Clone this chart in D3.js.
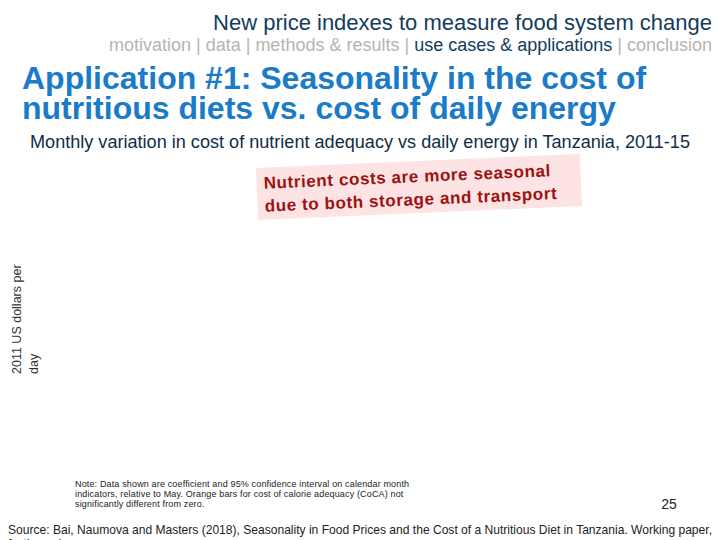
<!DOCTYPE html>
<html>
<head>
<meta charset="utf-8">
<script src="https://cdn.jsdelivr.net/npm/d3@7"></script>
<style>
  body { margin: 0; background: #fff; }
  svg { display: block; font-family: "Liberation Sans", Arial, sans-serif; }
</style>
</head>
<body>
<div id="slide"></div>
<script>
// Slide texts
var headerText = "New price indexes to measure food system change";
var navItems = ["motivation", "data", "methods & results", "use cases & applications", "conclusion"];
var activeNav = "use cases & applications";
var titleLines = ["Application #1: Seasonality in the cost of", "nutritious diets vs. cost of daily energy"];
var subtitle = "Monthly variation in cost of nutrient adequacy vs daily energy in Tanzania, 2011-15";
var calloutLines = ["Nutrient costs are more seasonal", "due to both storage and transport"];
var yLabelLines = ["2011 US dollars per", "day"];
var noteLines = [
  "Note: Data shown are coefficient and 95% confidence interval on calendar month",
  "indicators, relative to May.  Orange bars for cost of calorie adequacy (CoCA) not",
  "significantly different from zero."
];
var pageNumber = "25";
var sourceLines = [
  "Source: Bai, Naumova and Masters (2018), Seasonality in Food Prices and the Cost of a Nutritious Diet in Tanzania. Working paper,",
  "forthcoming."
];

// Chart categories (the plot area is blank in the reference, no bars shown)
var months = ["Jan", "Feb", "Mar", "Apr", "May", "Jun", "Jul", "Aug", "Sep", "Oct", "Nov", "Dec"];
var visibleBars = [];

var svgWidth = 720;
var svgHeight = 540;

var svg = d3.select("#slide")
  .append("svg")
  .attr("width", svgWidth)
  .attr("height", svgHeight);

// header
svg.append("text")
  .attr("x", 712)
  .attr("y", 30)
  .attr("text-anchor", "end")
  .attr("font-size", 22)
  .attr("fill", "#133c5c")
  .text(headerText);

var nav = svg.append("text")
  .attr("x", 712)
  .attr("y", 51)
  .attr("text-anchor", "end")
  .attr("font-size", 18);

navItems.forEach(function (item, i) {
  nav.append("tspan")
    .attr("fill", item === activeNav ? "#133c5c" : "#b4b4b4")
    .text(item);
  if (i < navItems.length - 1) {
    nav.append("tspan").attr("fill", "#b4b4b4").text(" | ");
  }
});

// title
svg.selectAll(".title")
  .data(titleLines)
  .enter()
  .append("text")
  .attr("class", "title")
  .attr("x", 22)
  .attr("y", (d, i) => 89 + i * 30)
  .attr("font-size", 32)
  .attr("font-weight", "bold")
  .attr("fill", "#1a7bc9")
  .text(d => d);

svg.append("text")
  .attr("x", 30)
  .attr("y", 148)
  .attr("font-size", 17.5)
  .attr("textLength", 660)
  .attr("lengthAdjust", "spacingAndGlyphs")
  .attr("fill", "#0f2d47")
  .text(subtitle);

// chart area
var margin = { top: 165, right: 20, bottom: 80, left: 60 };
var width = svgWidth - margin.left - margin.right;
var height = svgHeight - margin.top - margin.bottom;

var chartGroup = svg.append("g")
  .attr("transform", `translate(${margin.left}, ${margin.top})`);

var xBandScale = d3.scaleBand()
  .domain(months)
  .range([0, width])
  .padding(0.3);

var yLinearScale = d3.scaleLinear()
  .domain([-0.1, 0.1])
  .range([height, 0]);

chartGroup.selectAll("rect.bar")
  .data(visibleBars)
  .enter()
  .append("rect")
  .attr("class", "bar")
  .attr("x", d => xBandScale(d.month))
  .attr("width", xBandScale.bandwidth())
  .attr("y", d => yLinearScale(Math.max(0, d.value)))
  .attr("height", d => Math.abs(yLinearScale(d.value) - yLinearScale(0)))
  .attr("fill", "#f79646");

// callout box
var callout = svg.append("g")
  .attr("transform", "translate(419, 187) rotate(-2.5)");

callout.append("rect")
  .attr("x", -162)
  .attr("y", -26)
  .attr("width", 324)
  .attr("height", 52)
  .attr("fill", "#fde3e3");

callout.selectAll("text")
  .data(calloutLines)
  .enter()
  .append("text")
  .attr("x", -155)
  .attr("y", (d, i) => -5 + i * 23)
  .attr("font-size", 17)
  .attr("font-weight", "bold")
  .attr("letter-spacing", 0.6)
  .attr("fill", "#9c1212")
  .text(d => d);

// y axis label
svg.selectAll(".ylab")
  .data(yLabelLines)
  .enter()
  .append("text")
  .attr("class", "ylab")
  .attr("transform", (d, i) => `translate(${21 + i * 17}, 374) rotate(-90)`)
  .attr("font-size", 12.5)
  .attr("fill", "#333")
  .text(d => d);

// note
svg.selectAll(".note")
  .data(noteLines)
  .enter()
  .append("text")
  .attr("class", "note")
  .attr("x", 75)
  .attr("y", (d, i) => 487 + i * 10)
  .attr("font-size", 9)
  .attr("letter-spacing", 0.15)
  .attr("fill", "#222")
  .text(d => d);

svg.append("text")
  .attr("x", 669)
  .attr("y", 509)
  .attr("text-anchor", "middle")
  .attr("font-size", 14)
  .attr("fill", "#222")
  .text(pageNumber);

svg.selectAll(".source")
  .data(sourceLines)
  .enter()
  .append("text")
  .attr("class", "source")
  .attr("x", 8)
  .attr("y", (d, i) => 534 + i * 14)
  .attr("font-size", 13)
  .attr("textLength", (d, i) => i === 0 ? 704 : null)
  .attr("lengthAdjust", "spacingAndGlyphs")
  .attr("fill", "#222")
  .text(d => d);
</script>
</body>
</html>
